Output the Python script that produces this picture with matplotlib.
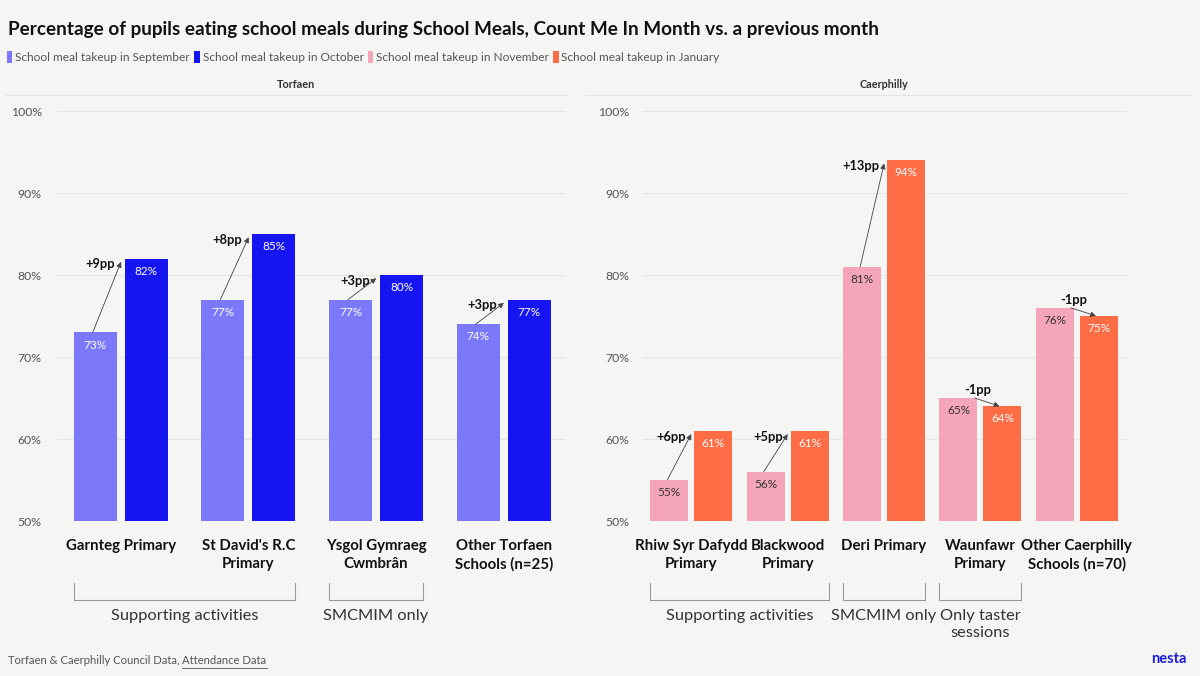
import matplotlib
matplotlib.use("Agg")
import matplotlib.pyplot as plt
from matplotlib.patches import Patch
from matplotlib.lines import Line2D

# ---------------- data ----------------
torfaen_schools = ["Garnteg Primary", "St David's R.C\nPrimary", "Ysgol Gymraeg\nCwmbrân", "Other Torfaen\nSchools (n=25)"]
sept_takeup = [73, 77, 77, 74]
oct_takeup = [82, 85, 80, 77]

caerphilly_schools = ["Rhiw Syr Dafydd\nPrimary", "Blackwood\nPrimary", "Deri Primary", "Waunfawr\nPrimary", "Other Caerphilly\nSchools (n=70)"]
nov_takeup = [55, 56, 81, 65, 76]
jan_takeup = [61, 61, 94, 64, 75]

legend_labels = ["School meal takeup in September", "School meal takeup in October",
                 "School meal takeup in November", "School meal takeup in January"]
y_ticks = [50, 60, 70, 80, 90, 100]

torfaen_groups = [("Supporting activities", 0, 1), ("SMCMIM only", 2, 2)]
caerphilly_groups = [("Supporting activities", 0, 1), ("SMCMIM only", 2, 2), ("Only taster\nsessions", 3, 3)]

# ---------------- style ----------------
C_SEPT = "#7b78f9"
C_OCT = "#1515f2"
C_NOV = "#f5a5b9"
C_JAN = "#ff6d46"
BG = "#f5f6f4"
FONT = ["Lato", "DejaVu Sans"]
plt.rcParams["font.family"] = FONT

W, H = 1200, 676
fig = plt.figure(figsize=(W / 100, H / 100), dpi=100, facecolor=BG)


def fx(px):
    return px / W


def fy(py):
    return 1 - py / H


ax_top, ax_bot = 111, 521
axL = fig.add_axes([fx(57), fy(ax_bot), fx(565 - 57), (ax_bot - ax_top) / H])
axR = fig.add_axes([fx(643), fy(ax_bot), fx(1127 - 643), (ax_bot - ax_top) / H])


def draw_panel(ax, names, v1, v2, c1, c2, lab1_col, off, width, xlim, groups, pad):
    ax.set_facecolor(BG)
    n = len(names)
    xs = list(range(n))
    x1 = [x - off for x in xs]
    x2 = [x + off for x in xs]
    ax.bar(x1, [v - 50 for v in v1], width, bottom=50, color=c1, zorder=3)
    ax.bar(x2, [v - 50 for v in v2], width, bottom=50, color=c2, zorder=3)
    ax.set_ylim(50, 100)
    ax.set_xlim(*xlim)
    ax.set_yticks(y_ticks)
    ax.set_yticklabels([f"{t}%" for t in y_ticks], fontsize=8.8, color="#555555")
    ax.tick_params(axis="y", length=0, pad=pad)
    ax.set_xticks([])
    for s in ax.spines.values():
        s.set_visible(False)
    ax.grid(axis="y", color="#e4e6e3", lw=0.8, zorder=0)

    for i in range(n):
        ax.text(x1[i], v1[i] - 1.55, f"{v1[i]}%", ha="center", va="center",
                fontsize=8.5, color=lab1_col, zorder=4)
        ax.text(x2[i], v2[i] - 1.55, f"{v2[i]}%", ha="center", va="center",
                fontsize=8.5, color="white", zorder=4)
        d = v2[i] - v1[i]
        lab = f"{d:+d}pp"
        if d >= 0:
            start = (x1[i] - 0.02, v1[i])
            tip = (x2[i] - width / 2 - 0.03, v2[i] - 0.4)
            ax.annotate("", xy=tip, xytext=start,
                        arrowprops=dict(arrowstyle="-|>", color="#444444", lw=0.6,
                                        mutation_scale=8, shrinkA=0, shrinkB=0), zorder=5)
            ax.text(tip[0] - 0.05, tip[1] - 0.3, lab, ha="right", va="center",
                    fontsize=9.3, fontweight="bold", color="#111111", zorder=5)
        else:
            start = (x1[i] + width / 2 - 0.03, v1[i])
            tip = (x2[i] - 0.03, v2[i])
            ax.annotate("", xy=tip, xytext=start,
                        arrowprops=dict(arrowstyle="-|>", color="#444444", lw=0.6,
                                        mutation_scale=8, shrinkA=0, shrinkB=0), zorder=5)
            ax.text(x1[i] + width / 2, v1[i] + 1.0, lab, ha="center", va="center",
                    fontsize=9.3, fontweight="bold", color="#111111", zorder=5)

    tr = ax.get_xaxis_transform()
    hpx = ax_bot - ax_top
    for i, nm in enumerate(names):
        ax.text(xs[i], -(539 - ax_bot) / hpx, nm, transform=tr, ha="center", va="top",
                fontsize=10.8, fontweight="bold", color="#111111", linespacing=1.35)
    ytop = -(583 - ax_bot) / hpx
    ybot = -(600 - ax_bot) / hpx
    for lab, a, b in groups:
        xa = a - off - width / 2
        xb = b + off + width / 2
        ax.plot([xa, xa, xb, xb], [ytop, ybot, ybot, ytop], transform=tr,
                color="#9a9a9a", lw=0.8, clip_on=False)
        ax.text((xa + xb) / 2, -(609 - ax_bot) / hpx, lab, transform=tr, ha="center",
                va="top", fontsize=11.8, color="#333333", linespacing=1.3)


# Torfaen: group spacing ~127.7 px
draw_panel(axL, torfaen_schools, sept_takeup, oct_takeup, C_SEPT, C_OCT, "white",
           0.2, 0.337, (-0.5, 3.48), torfaen_groups, 11)
# Caerphilly: group spacing ~96.4 px
draw_panel(axR, caerphilly_schools, nov_takeup, jan_takeup, C_NOV, C_JAN, "#333333",
           0.228, 0.394, (-0.5, 4.52), caerphilly_groups, 10)

# panel titles + separator lines
fig.text(fx(296), fy(84), "Torfaen", ha="center", va="center", fontsize=7.8,
         fontweight="bold", color="#333333")
fig.text(fx(884), fy(84), "Caerphilly", ha="center", va="center", fontsize=7.8,
         fontweight="bold", color="#333333")
fig.add_artist(Line2D([fx(5), fx(568)], [fy(95), fy(95)], color="#e4e6e3", lw=0.8))
fig.add_artist(Line2D([fx(585), fx(1192)], [fy(95), fy(95)], color="#e4e6e3", lw=0.8))

# title
fig.text(fx(8), fy(29), "Percentage of pupils eating school meals during School Meals, Count Me In Month vs. a previous month",
         ha="left", va="center", fontsize=13.55, fontweight="bold", color="#111111")

# legend
handles = [Patch(facecolor=c, edgecolor="none") for c in (C_SEPT, C_OCT, C_NOV, C_JAN)]
leg = fig.legend(handles, legend_labels, loc="center left", bbox_to_anchor=(fx(7), fy(57)),
                 ncol=4, frameon=False, fontsize=8.6, handlelength=0.45, handleheight=1.1,
                 handletextpad=0.25, columnspacing=0.35, borderaxespad=0, borderpad=0)
for t in leg.get_texts():
    t.set_color("#555555")

# footer
t1 = fig.text(fx(8), fy(661), "Torfaen & Caerphilly Council Data, ", ha="left", va="center",
              fontsize=8.1, color="#555555")
fig.canvas.draw()
r = fig.canvas.get_renderer()
bb = t1.get_window_extent(r)
t2 = fig.text(bb.x1 / W, fy(661), "Attendance Data", ha="left", va="center",
              fontsize=8.1, color="#555555")
bb2 = t2.get_window_extent(r)
fig.add_artist(Line2D([bb2.x0 / W, bb2.x1 / W], [(bb2.y0 - 1) / H, (bb2.y0 - 1) / H],
                      color="#555555", lw=0.6))
fig.text(fx(1186), fy(659), "nesta", ha="right", va="center", fontsize=10.5,
         fontweight="bold", color="#1b1bd8")

fig.savefig("out.png", dpi=100, facecolor=BG)
